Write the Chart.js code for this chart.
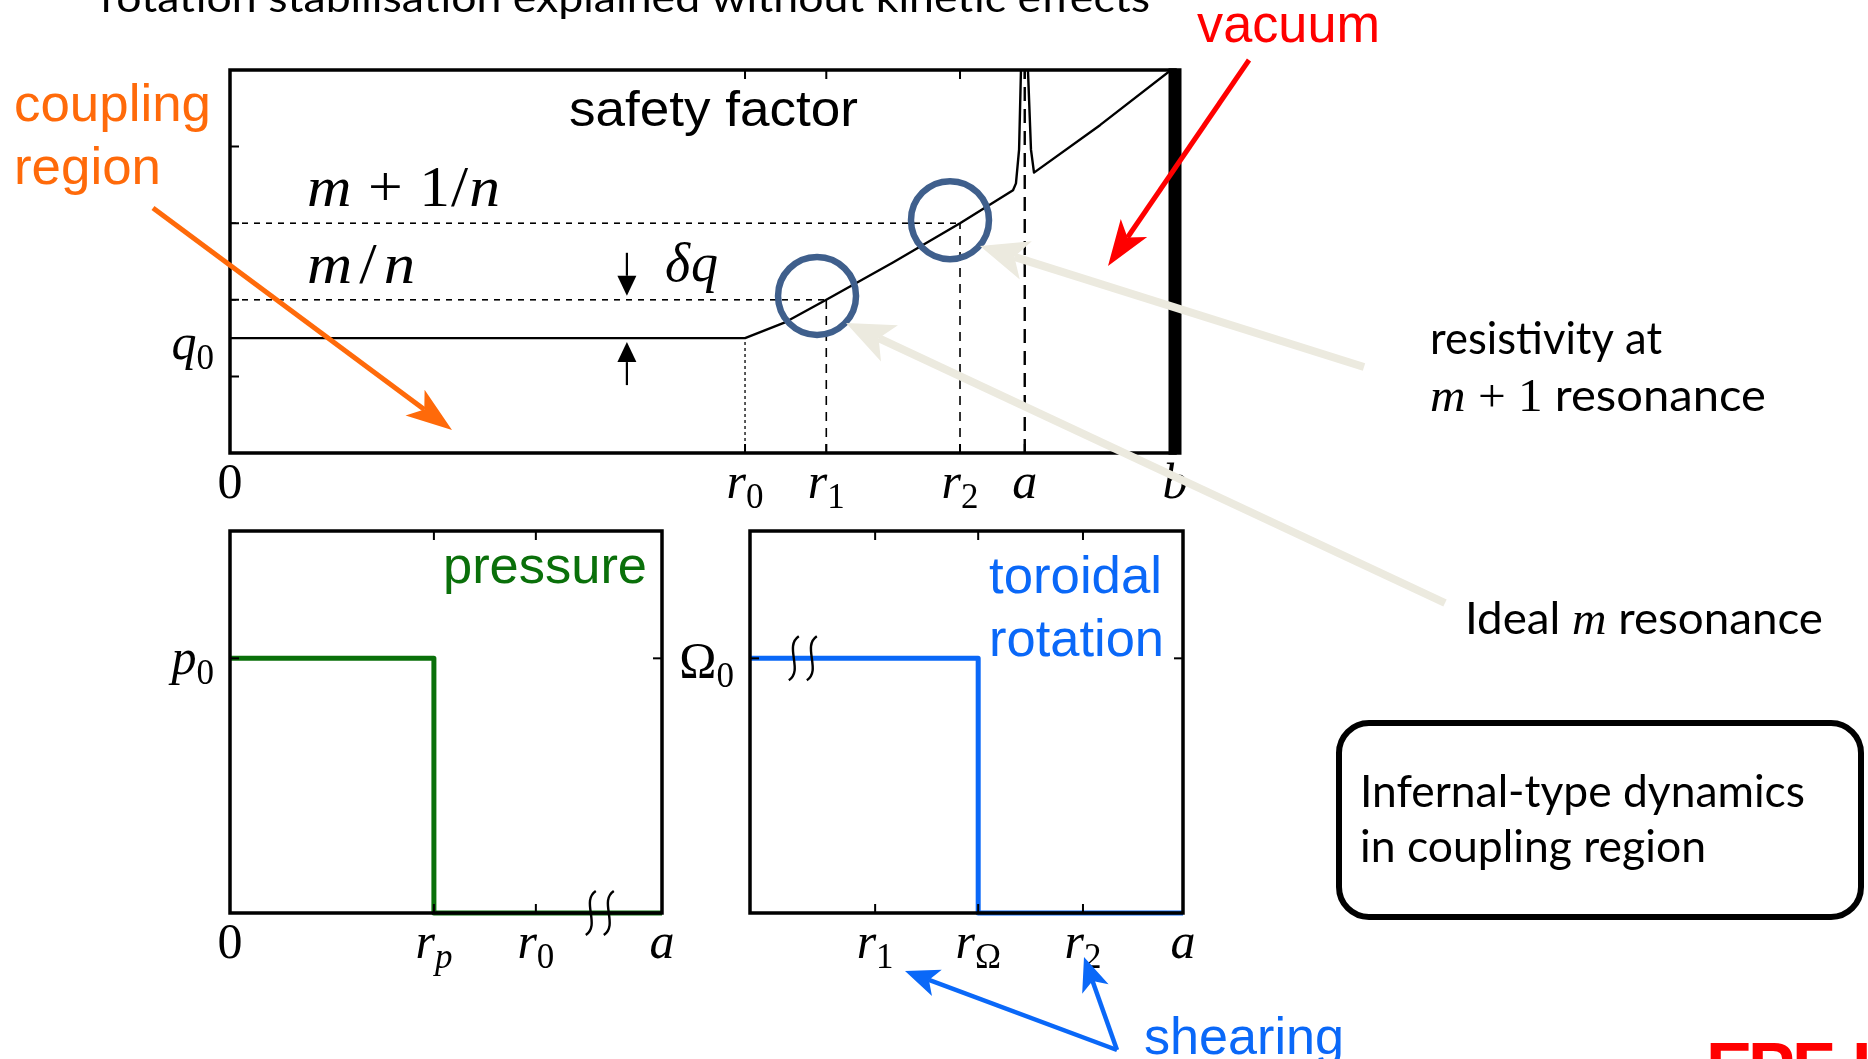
<!DOCTYPE html>
<html>
<head>
<meta charset="utf-8">
<script src="https://cdn.jsdelivr.net/npm/chart.js@4.4.1/dist/chart.umd.min.js"></script>
<style>
  html, body { margin: 0; padding: 0; background: #fff; overflow: hidden; }
  #stage { position: relative; width: 1868px; height: 1059px; }
  #stage canvas { position: absolute; left: 0; top: 0; }
</style>
</head>
<body>
<div id="stage">
  <canvas id="qChart" width="1868" height="1059"></canvas>
  <canvas id="pChart" width="1868" height="1059"></canvas>
  <canvas id="wChart" width="1868" height="1059"></canvas>
</div>
<script>
// ---------------- data ----------------
// safety factor profile q(r), r normalised to the wall radius b
const qProfileR = [0, 0.545, 0.588, 0.631, 0.702, 0.7725, 0.8286, 0.8317, 0.835, 0.837, 0.8407, 0.8444, 0.8476, 0.8508, 0.9206, 1.0];
const qProfileQ = [1.5, 1.5, 1.71, 2.0, 2.49, 3.0, 3.43, 3.52, 3.96, 5.0, 6.3, 5.0, 3.96, 3.66, 4.28, 5.04];
const qAxisLabels = ['0', 'r_0', 'r_1', 'r_2', 'a', 'b'];
const qAxisR = [0, 0.545, 0.631, 0.7725, 0.841, 1.0];
const qTickLevels = [1, 2, 3, 4];
const q0 = 1.5;
const resonantQ = [2, 3];           // m/n and (m+1)/n
const resonantR = [0.631, 0.7725];  // r1, r2
const markerR = [0.6212, 0.7619];   // circled resonances
const markerQ = [2.05, 3.04];
const qMax = 5;

// pressure profile
const pressureR = [0, 0.472, 0.472, 1];
const pressureP = [1, 1, 0, 0];
const pAxisLabels = ['0', 'r_p', 'r_0', 'a'];
const pAxisR = [0, 0.472, 0.708, 1];

// toroidal rotation profile
const rotationR = [0, 0.527, 0.527, 1];
const rotationW = [1, 1, 0, 0];
const wAxisLabels = ['r_1', 'r_Ω', 'r_2', 'a'];
const wAxisR = [0.289, 0.527, 0.769, 1];

// ---------------- layout ----------------
const PAGE = { w: 1868, h: 1059 };
const Q_AREA = { left: 230, top: 70, right: 1175, bottom: 453 };
const P_AREA = { left: 230, top: 531, right: 662, bottom: 913 };
const W_AREA = { left: 750, top: 531, right: 1183, bottom: 913 };

const SANS = '"Liberation Sans", Arial, sans-serif';
const BODY = 'Lato, "Open Sans", sans-serif';
const SERIF = '"Liberation Serif", "Times New Roman", serif';
const MATH_SIZE = 50;
const TICK = 9;

const C_GREEN = '#0A700A';
const C_BLUE = '#0A68F8';
const C_ORANGE = '#FF6A0A';
const C_RED = '#FF0000';
const C_BEIGE = '#ECEADF';
const C_RING = '#3F5F8C';

function padFor(a) {
  return { left: a.left, top: a.top, right: PAGE.w - a.right, bottom: PAGE.h - a.bottom };
}
function pts(xs, ys) { return xs.map((x, i) => ({ x, y: ys[i] })); }

// ---------------- text helpers ----------------
function parseMath(label) {
  const [main, sub] = label.split('_');
  const runs = [];
  for (const ch of main) runs.push([ch, /[a-zα-ω]/.test(ch) ? 'i' : 'u']);
  if (sub) for (const ch of sub) runs.push([ch, /[a-zα-ω]/.test(ch) ? 'si' : 's']);
  return runs;
}
function mathRuns(spec, size) {
  return spec.map(([t, s]) => {
    const sub = s[0] === 's';
    const italic = s.includes('i');
    const fs = sub ? size * 0.7 : size;
    return { t, font: (italic ? 'italic ' : '') + fs + 'px ' + SERIF, dy: sub ? size * 0.2 : 0 };
  });
}
// Draws a sequence of runs. A target width is reached by a horizontal
// stretch, optionally combined with spreading the spare width between runs.
function drawRuns(ctx, runs, x, y, align, targetW, color, spread, stretch) {
  let w = 0;
  runs.forEach(r => { ctx.font = r.font; r.w = ctx.measureText(r.t).width; w += r.w; });
  let sx = 1, gap = 0;
  if (targetW) {
    if (spread && runs.length > 1) {
      sx = stretch || 1;
      gap = (targetW - w * sx) / (runs.length - 1) / sx;
    } else sx = targetW / w;
  }
  const total = targetW || w;
  const start = align === 'center' ? x - total / 2 : align === 'right' ? x - total : x;
  ctx.save();
  ctx.fillStyle = color || '#000';
  ctx.textBaseline = 'alphabetic';
  ctx.textAlign = 'left';
  ctx.translate(start, y);
  ctx.scale(sx, 1);
  let cx = 0;
  runs.forEach(r => { ctx.font = r.font; ctx.fillText(r.t, cx, r.dy || 0); cx += r.w + gap; });
  ctx.restore();
}
function textRun(t, font) { return { t, font, dy: 0 }; }
function drawText(ctx, t, font, x, y, targetW, color, align) {
  drawRuns(ctx, [textRun(t, font)], x, y, align || 'left', targetW, color);
}

// ---------------- drawing helpers ----------------
function arrow(ctx, x1, y1, x2, y2, color, width, headLen, headW, notch) {
  const ang = Math.atan2(y2 - y1, x2 - x1);
  const c = Math.cos(ang), s = Math.sin(ang);
  const bx = x2 - c * headLen, by = y2 - s * headLen;
  const k = notch === undefined ? 0.25 : notch;
  const nx = x2 - c * headLen * (1 - k), ny = y2 - s * headLen * (1 - k);
  ctx.save();
  ctx.strokeStyle = color; ctx.fillStyle = color;
  ctx.lineWidth = width; ctx.lineCap = 'butt';
  ctx.beginPath(); ctx.moveTo(x1, y1); ctx.lineTo(nx, ny); ctx.stroke();
  ctx.beginPath();
  ctx.moveTo(x2, y2);
  ctx.lineTo(bx - s * headW / 2, by + c * headW / 2);
  ctx.lineTo(nx, ny);
  ctx.lineTo(bx + s * headW / 2, by - c * headW / 2);
  ctx.closePath(); ctx.fill();
  ctx.restore();
}
function breakMark(ctx, cx, cy) {
  ctx.save();
  ctx.strokeStyle = '#000'; ctx.lineWidth = 2.4;
  [-9, 9].forEach(dx => {
    const x = cx + dx;
    ctx.beginPath();
    ctx.moveTo(x + 5, cy - 22);
    ctx.bezierCurveTo(x - 10, cy - 12, x + 10, cy + 12, x - 5, cy + 22);
    ctx.stroke();
  });
  ctx.restore();
}
function frame(ctx, ar, sides) {
  ctx.save();
  ctx.strokeStyle = '#000'; ctx.lineWidth = 3.5; ctx.lineCap = 'square';
  ctx.beginPath();
  if (sides.includes('t')) { ctx.moveTo(ar.left, ar.top); ctx.lineTo(ar.right, ar.top); }
  if (sides.includes('b')) { ctx.moveTo(ar.left, ar.bottom); ctx.lineTo(ar.right, ar.bottom); }
  if (sides.includes('l')) { ctx.moveTo(ar.left, ar.top); ctx.lineTo(ar.left, ar.bottom); }
  if (sides.includes('r')) { ctx.moveTo(ar.right, ar.top); ctx.lineTo(ar.right, ar.bottom); }
  ctx.stroke();
  ctx.restore();
}
function ticksX(ctx, chart, values, side) {
  const ar = chart.chartArea, x = chart.scales.x;
  ctx.save(); ctx.strokeStyle = '#000'; ctx.lineWidth = 2;
  ctx.beginPath();
  values.forEach(v => {
    const px = x.getPixelForValue(v);
    const y0 = side === 'top' ? ar.top : ar.bottom;
    const dir = side === 'top' ? 1 : -1;
    ctx.moveTo(px, y0); ctx.lineTo(px, y0 + dir * TICK);
  });
  ctx.stroke(); ctx.restore();
}
function ticksY(ctx, chart, values, side) {
  const ar = chart.chartArea, y = chart.scales.y;
  ctx.save(); ctx.strokeStyle = '#000'; ctx.lineWidth = 2;
  ctx.beginPath();
  values.forEach(v => {
    const py = y.getPixelForValue(v);
    const x0 = side === 'left' ? ar.left : ar.right;
    const dir = side === 'left' ? 1 : -1;
    ctx.moveTo(x0, py); ctx.lineTo(x0 + dir * TICK, py);
  });
  ctx.stroke(); ctx.restore();
}
function axisLabelsX(ctx, chart, labels, values, baseline) {
  const x = chart.scales.x;
  labels.forEach((lab, i) => {
    drawRuns(ctx, mathRuns(parseMath(lab), MATH_SIZE), x.getPixelForValue(values[i]), baseline, 'center');
  });
}
function axisLabelY(ctx, chart, lab, value, baseOffset) {
  const y = chart.scales.y, ar = chart.chartArea;
  drawRuns(ctx, mathRuns(parseMath(lab), MATH_SIZE), ar.left - 16, y.getPixelForValue(value) + baseOffset, 'right');
}

function baseOptions(area, xMax, yMax) {
  return {
    responsive: false,
    animation: false,
    devicePixelRatio: 1,
    events: [],
    layout: { padding: padFor(area) },
    plugins: { legend: { display: false }, tooltip: { enabled: false }, title: { display: false } },
    elements: { point: { radius: 0 }, line: { tension: 0 } },
    scales: {
      x: { type: 'linear', min: 0, max: xMax, display: false },
      y: { type: 'linear', min: 0, max: yMax, display: false }
    }
  };
}

// ---------------- safety factor panel ----------------
const qDecor = {
  id: 'qDecor',
  afterDatasetsDraw(chart) {
    const { ctx, chartArea: ar, scales: { x, y } } = chart;
    frame(ctx, ar, 'tbl');
    // ideal wall at r = b
    ctx.fillStyle = '#000';
    ctx.fillRect(x.getPixelForValue(1) - 6.5, ar.top - 1.75, 13, ar.bottom - ar.top + 3.5);
    const inner = qAxisR.slice(1, 5);
    ticksX(ctx, chart, inner, 'top');
    ticksX(ctx, chart, inner, 'bottom');
    ticksY(ctx, chart, qTickLevels.concat([q0]), 'left');
    axisLabelsX(ctx, chart, qAxisLabels, qAxisR, 498);
    axisLabelY(ctx, chart, 'q_0', q0, 21);

    drawText(ctx, 'safety factor', '50px ' + SANS, 569, 126, 289, '#000');
    drawRuns(ctx, mathRuns([['m', 'i'], [' + ', 'u'], ['1', 'u'], ['/', 'u'], ['n', 'i']], 56), 307, 206, 'left', 193, '#000', true, 1.1);
    drawRuns(ctx, mathRuns([['m', 'i'], ['/', 'u'], ['n', 'i']], 56), 307, 283, 'left', 108, '#000', true, 1.12);
    drawRuns(ctx, mathRuns([['δ', 'i'], ['q', 'i']], 54), 665, 281, 'left', 53, '#000', true);

    // δq markers between q0 and m/n
    const ax = x.getPixelForValue(0.42);
    const yRes = y.getPixelForValue(resonantQ[0]);
    const yQ0 = y.getPixelForValue(q0);
    arrow(ctx, ax, yRes - 47, ax, yRes - 4, '#000', 2.2, 20, 19, 0);
    arrow(ctx, ax, yQ0 + 47, ax, yQ0 + 4, '#000', 2.2, 20, 19, 0);
  }
};

new Chart(document.getElementById('qChart'), {
  type: 'line',
  data: {
    datasets: [
      { // circled resonant surfaces
        type: 'scatter', data: pts(markerR, markerQ), showLine: false,
        pointRadius: 39, pointBorderWidth: 6.5, pointBorderColor: C_RING,
        pointBackgroundColor: 'rgba(0,0,0,0)', clip: false
      },
      { data: pts(qProfileR, qProfileQ), borderColor: '#000', borderWidth: 2.4, clip: 0, borderJoinStyle: 'round' },
      { data: pts([0, resonantR[0]], [resonantQ[0], resonantQ[0]]), borderColor: '#000', borderWidth: 1.6, borderDash: [6, 6] },
      { data: pts([0, resonantR[1]], [resonantQ[1], resonantQ[1]]), borderColor: '#000', borderWidth: 1.6, borderDash: [6, 6] },
      { data: pts([qAxisR[1], qAxisR[1]], [0, q0]), borderColor: '#000', borderWidth: 1.3, borderDash: [3, 3] },
      { data: pts([resonantR[0], resonantR[0]], [0, resonantQ[0]]), borderColor: '#000', borderWidth: 1.6, borderDash: [9, 7] },
      { data: pts([resonantR[1], resonantR[1]], [0, resonantQ[1]]), borderColor: '#000', borderWidth: 1.6, borderDash: [9, 7] },
      { data: pts([qAxisR[4], qAxisR[4]], [0, qMax]), borderColor: '#000', borderWidth: 2.4, borderDash: [14, 8] }
    ]
  },
  options: baseOptions(Q_AREA, 1, qMax),
  plugins: [qDecor]
});

// ---------------- pressure panel ----------------
const pDecor = {
  id: 'pDecor',
  afterDatasetsDraw(chart) {
    const { ctx, chartArea: ar, scales: { x, y } } = chart;
    frame(ctx, ar, 'tblr');
    ticksX(ctx, chart, pAxisR.slice(1, 3), 'top');
    ticksX(ctx, chart, pAxisR.slice(1, 3), 'bottom');
    ticksY(ctx, chart, [1], 'left');
    ticksY(ctx, chart, [1], 'right');
    axisLabelsX(ctx, chart, pAxisLabels, pAxisR, 958);
    axisLabelY(ctx, chart, 'p_0', 1, 16);
    drawText(ctx, 'pressure', '52px ' + SANS, 443, 583, 204, C_GREEN);
    breakMark(ctx, x.getPixelForValue(0.856), y.getPixelForValue(0));
  }
};

new Chart(document.getElementById('pChart'), {
  type: 'line',
  data: {
    datasets: [
      { data: pts(pressureR, pressureP), borderColor: C_GREEN, borderWidth: 5, clip: false, borderJoinStyle: 'round' }
    ]
  },
  options: baseOptions(P_AREA, 1, 1.5),
  plugins: [pDecor]
});

// ---------------- rotation panel + slide annotations ----------------
const wDecor = {
  id: 'wDecor',
  afterDatasetsDraw(chart) {
    const { ctx, chartArea: ar, scales: { x, y } } = chart;
    frame(ctx, ar, 'tblr');
    ticksX(ctx, chart, wAxisR.slice(0, 3), 'top');
    ticksX(ctx, chart, wAxisR.slice(0, 3), 'bottom');
    ticksY(ctx, chart, [1], 'left');
    ticksY(ctx, chart, [1], 'right');
    axisLabelsX(ctx, chart, wAxisLabels, wAxisR, 958);
    axisLabelY(ctx, chart, 'Ω_0', 1, 19);
    drawText(ctx, 'toroidal', '52px ' + SANS, 989, 593, 173, C_BLUE);
    drawText(ctx, 'rotation', '52px ' + SANS, 989, 656, 175, C_BLUE);
    breakMark(ctx, x.getPixelForValue(0.122), y.getPixelForValue(1));
  },
  afterDraw(chart) {
    const ctx = chart.ctx;
    // slide title
    drawText(ctx, 'rotation stabilisation explained without kinetic effects', '41px ' + BODY, 101, 12, 1049, '#000');

    // coupling region
    drawText(ctx, 'coupling', '52px ' + SANS, 14, 121, 197, C_ORANGE);
    drawText(ctx, 'region', '52px ' + SANS, 14, 184, 147, C_ORANGE);
    arrow(ctx, 153, 208, 452, 430, C_ORANGE, 5, 46, 32);

    // vacuum
    drawText(ctx, 'vacuum', '53px ' + SANS, 1197, 42, 183, C_RED);
    arrow(ctx, 1249, 60, 1108, 266, C_RED, 5, 46, 32);

    // resonance call-outs
    arrow(ctx, 1364, 367, 980, 246, C_BEIGE, 8, 48, 40);
    arrow(ctx, 1445, 603, 846, 323, C_BEIGE, 8, 48, 40);
    drawText(ctx, 'resistivity at', '44px ' + BODY, 1430, 354, 232, '#000');
    drawRuns(ctx, [
      { t: 'm', font: 'italic 46px ' + SERIF, dy: 0 },
      { t: ' + 1', font: '46px ' + SERIF, dy: 0 },
      { t: ' resonance', font: '44px ' + BODY, dy: 0 }
    ], 1430, 411, 'left', 336, '#000');
    drawRuns(ctx, [
      { t: 'Ideal ', font: '44px ' + BODY, dy: 0 },
      { t: 'm', font: 'italic 46px ' + SERIF, dy: 0 },
      { t: ' resonance', font: '44px ' + BODY, dy: 0 }
    ], 1465, 634, 'left', 358, '#000');

    // infernal box
    ctx.save();
    ctx.strokeStyle = '#000'; ctx.lineWidth = 6;
    ctx.beginPath(); ctx.roundRect(1339, 723, 522, 194, 30); ctx.stroke();
    ctx.restore();
    drawText(ctx, 'Infernal-type dynamics', '44px ' + BODY, 1360, 807, 445, '#000');
    drawText(ctx, 'in coupling region', '44px ' + BODY, 1360, 862, 346, '#000');

    // shearing
    drawText(ctx, 'shearing', '52px ' + SANS, 1144, 1054, 200, C_BLUE);
    arrow(ctx, 1117, 1050, 905, 971, C_BLUE, 4.5, 34, 28);
    arrow(ctx, 1117, 1050, 1084, 957, C_BLUE, 4.5, 34, 28);

    // logo
    ctx.save();
    ctx.fillStyle = C_RED;
    ctx.font = 'bold 70px ' + SANS;
    ctx.textBaseline = 'alphabetic';
    [['E', 1706], ['P', 1748], ['F', 1792], ['L', 1852]].forEach(([c, px]) => ctx.fillText(c, px, 1092));
    ctx.restore();
  }
};

new Chart(document.getElementById('wChart'), {
  type: 'line',
  data: {
    datasets: [
      { data: pts(rotationR, rotationW), borderColor: C_BLUE, borderWidth: 5, clip: false, borderJoinStyle: 'round' }
    ]
  },
  options: baseOptions(W_AREA, 1, 1.5),
  plugins: [wDecor]
});
</script>
</body>
</html>
